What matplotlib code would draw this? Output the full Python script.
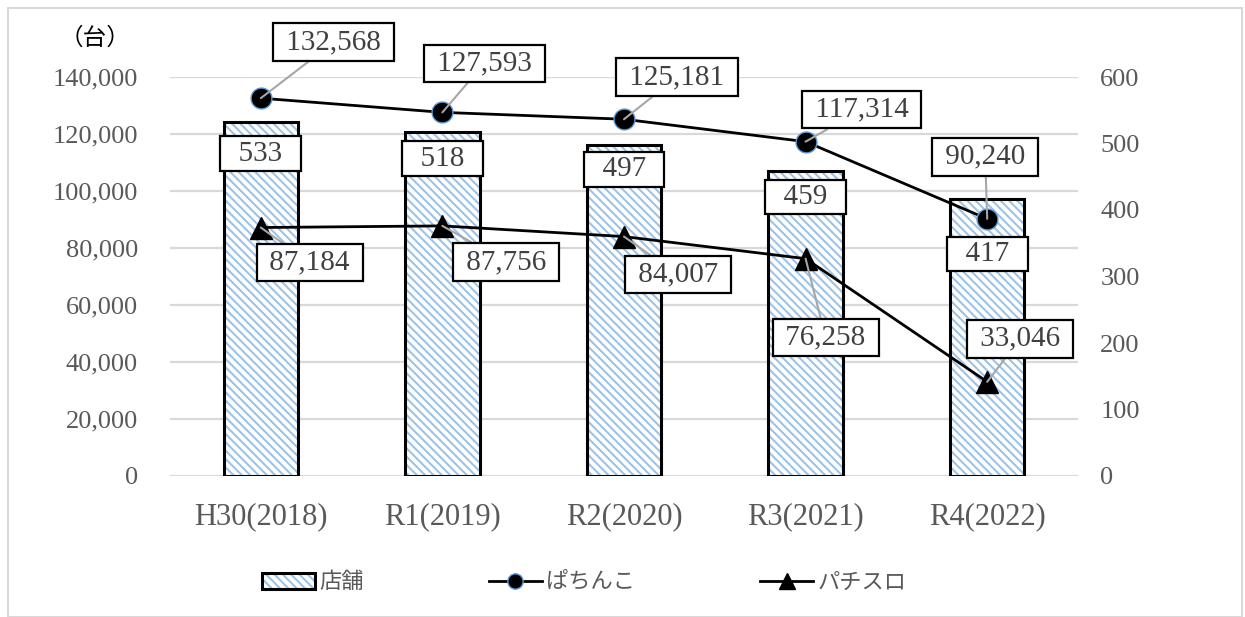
import matplotlib.pyplot as plt
import numpy as np
from matplotlib.patches import Patch, Rectangle
from matplotlib.lines import Line2D

### data
years = ['H30(2018)', 'R1(2019)', 'R2(2020)', 'R3(2021)', 'R4(2022)']
shops = [533, 518, 497, 459, 417]
pachinko = [132568, 127593, 125181, 117314, 90240]
pachislo = [87184, 87756, 84007, 76258, 33046]

### label box offsets (pixels, from marker / bar top)
pachinko_off = [(73, 56), (42, 49), (53, 42), (56, 32), (-2, 62)]
pachislo_off = [(49, -35), (64, -36), (54, -38), (20, -79), (33, 43)]
shops_off = [-32, -27, -24, -26, -55]

serif = 'Liberation Serif'
grey = '#595959'
hatch = '\\\\\\\\'
plt.rcParams['hatch.color'] = '#9DC3E6'
plt.rcParams['hatch.linewidth'] = 1.5

fig = plt.figure(figsize=(12.45, 6.17), dpi=100)
fig.patches.append(Rectangle((8/1245, 0), 1234/1245, 609/617, transform=fig.transFigure,
                             fill=False, edgecolor='#D9D9D9', linewidth=1.5))

ax = fig.add_axes([170/1245, 1-476/617, 908/1245, 399/617])
x = np.arange(len(years))

# bars (right axis)
ax.bar(x, shops, width=0.41, color='white', hatch=hatch, linewidth=0, zorder=2)
ax.bar(x, shops, width=0.41, fill=False, edgecolor='black', linewidth=2.2, zorder=3)
ax.set_ylim(0, 600)
ax.set_xlim(-0.5, 4.5)
ax.set_xticks(x)
ax.set_xticklabels(years, fontfamily=serif, fontsize=22, color=grey)
ax.tick_params(axis='x', length=0, pad=19)
for s in ax.spines.values():
    s.set_visible(False)

# lines (left axis)
ax2 = ax.twinx()
ax.yaxis.tick_right()
ax.set_yticks(range(0, 601, 100))
ax.set_yticklabels([str(v) for v in range(0, 601, 100)], fontfamily=serif,
                   fontsize=19, color=grey)
ax.tick_params(axis='y', length=0, pad=16)

ax2.yaxis.tick_left()
ax2.set_ylim(0, 140000)
ax2.set_yticks(range(0, 140001, 20000))
ax2.set_yticklabels(['{:,}'.format(v) for v in range(0, 140001, 20000)],
                    fontfamily=serif, fontsize=19, color=grey)
ax2.tick_params(axis='y', length=0, pad=23)
for s in ax2.spines.values():
    s.set_visible(False)
for v in range(0, 140001, 20000):
    ax.axhline(v / 140000 * 600, color='#D9D9D9', linewidth=1.6, zorder=0)

ax2.plot(x, pachinko, color='black', linewidth=2, marker='o', markersize=15,
         markerfacecolor='black', markeredgecolor='#5B9BD5', markeredgewidth=1, zorder=4)
ax2.plot(x, pachislo, color='black', linewidth=2, marker='^', markersize=16,
         markerfacecolor='black', markeredgecolor='black', zorder=4)

box = dict(boxstyle='square,pad=0.2', facecolor='white', edgecolor='black', linewidth=1.6)
sbox = dict(boxstyle='square,pad=0.14', facecolor='white', edgecolor='black', linewidth=1.6)
arrow = dict(arrowstyle='-', color='#A6A6A6', linewidth=1.5, shrinkA=0, shrinkB=0)

for i in range(len(years)):
    ax2.annotate(' {:,} '.format(pachinko[i]), (x[i], pachinko[i]), xytext=pachinko_off[i],
                 textcoords='offset pixels', ha='center', va='center', fontfamily=serif,
                 fontsize=21, color='#404040', bbox=box, arrowprops=arrow, zorder=6)
    ax2.annotate(' {:,} '.format(pachislo[i]), (x[i], pachislo[i]), xytext=pachislo_off[i],
                 textcoords='offset pixels', ha='center', va='center', fontfamily=serif,
                 fontsize=21, color='#404040', bbox=box, arrowprops=arrow, zorder=6)
    ax.annotate('  {}  '.format(shops[i]), (x[i], shops[i]), xytext=(0, shops_off[i]),
                textcoords='offset pixels', ha='center', va='center', fontfamily=serif,
                fontsize=21, color='#404040', bbox=sbox, zorder=5)

fig.text(95/1245, 1-38/617, '（台）', fontfamily='Noto Sans CJK JP', fontsize=17,
         color='black', ha='center', va='center')

# legend
h_bar = (Patch(facecolor='white', hatch=hatch, linewidth=0),
         Patch(fill=False, edgecolor='black', linewidth=2.2))
h_pc = Line2D([], [], color='black', linewidth=2, marker='o', markersize=11,
              markerfacecolor='black', markeredgecolor='#5B9BD5')
h_ps = Line2D([], [], color='black', linewidth=2, marker='^', markersize=12,
              markerfacecolor='black')
leg = fig.legend([h_bar, h_pc, h_ps], ['店舗', 'ぱちんこ', 'パチスロ'], ncol=3,
                 loc='center left', bbox_to_anchor=(242/1245, 1-582/617), frameon=False,
                 prop={'family': 'Noto Sans CJK JP', 'size': 16}, handlelength=2.4,
                 handletextpad=0.2, columnspacing=5.6)
for t in leg.get_texts():
    t.set_color(grey)

fig.savefig('out.png', dpi=100)
